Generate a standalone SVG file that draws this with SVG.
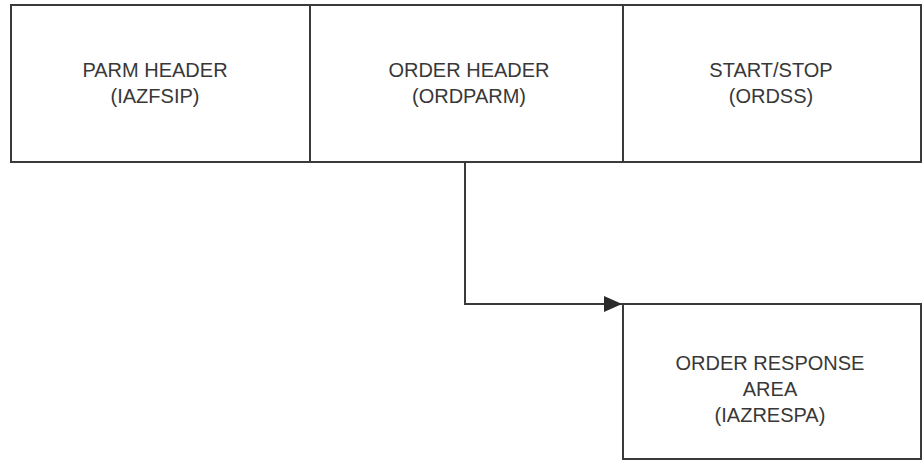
<svg xmlns="http://www.w3.org/2000/svg" width="924" height="461" viewBox="0 0 924 461">
<style>
.box{fill:#fff;stroke:#3a3a3a;stroke-width:2}
.lbl{font-family:"Liberation Sans",Arial,sans-serif;font-size:20px;fill:#383838;text-anchor:middle}
.conn{fill:none;stroke:#3a3a3a;stroke-width:2}
</style>
<defs>
<marker id="arr" markerUnits="userSpaceOnUse" markerWidth="20" markerHeight="18" refX="18" refY="8" orient="auto">
<path d="M0,0 L18,8 L0,16 Z" fill="#2a2a2a"/>
</marker>
</defs>
<g id="parm-header">
<rect class="box" x="11" y="5" width="299" height="157"/>
<text class="lbl" x="155" y="77">PARM HEADER</text>
<text class="lbl" x="155" y="103">(IAZFSIP)</text>
</g>
<g id="order-header">
<rect class="box" x="310" y="5" width="313" height="157"/>
<text class="lbl" x="469" y="77">ORDER HEADER</text>
<text class="lbl" x="469" y="103">(ORDPARM)</text>
</g>
<g id="start-stop">
<rect class="box" x="623" y="5" width="298" height="157"/>
<text class="lbl" x="771" y="77">START/STOP</text>
<text class="lbl" x="771" y="103">(ORDSS)</text>
</g>
<g id="order-response-area">
<rect class="box" x="623" y="304" width="298" height="155"/>
<text class="lbl" x="770" y="370">ORDER RESPONSE</text>
<text class="lbl" x="770" y="396">AREA</text>
<text class="lbl" x="770" y="422">(IAZRESPA)</text>
</g>
<g id="connectors">
<path class="conn" d="M465,162 L465,304 L622,304" marker-end="url(#arr)"/>
</g>
</svg>
